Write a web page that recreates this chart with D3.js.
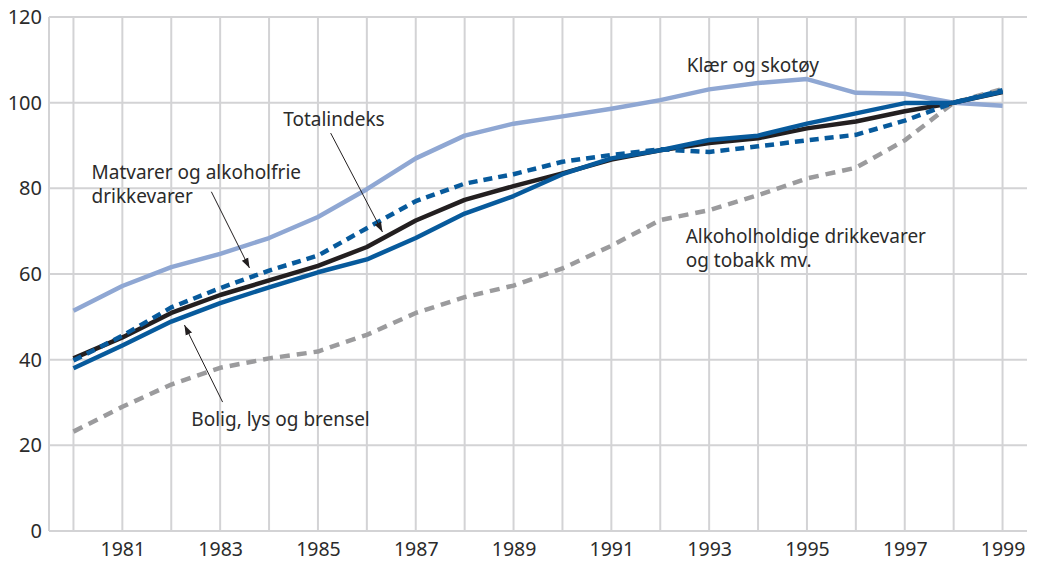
<!DOCTYPE html>
<html>
<head>
<meta charset="utf-8">
<script src="https://cdn.jsdelivr.net/npm/d3@7"></script>
<style>
  html, body { margin: 0; padding: 0; background: #ffffff; }
  svg { display: block; }
  text { font-family: "Noto Sans", "Open Sans", sans-serif; fill: #2b2b2b; }
</style>
</head>
<body>
<svg id="chart" width="1037" height="561"></svg>
<script>
// Prisindekser etter konsumgruppe, 1998 = 100
const years = d3.range(1980, 2000);
const yTicks = [0, 20, 40, 60, 80, 100, 120];
const xTickYears = [1981, 1983, 1985, 1987, 1989, 1991, 1993, 1995, 1997, 1999];

const klaer  = [51.4, 57.2, 61.6, 64.7, 68.4, 73.3, 79.8, 87.0, 92.3, 95.1, 96.8, 98.6, 100.6, 103.1, 104.6, 105.5, 102.3, 102.1, 100.0, 99.3];
const bolig  = [38.0, 43.3, 48.9, 53.2, 56.9, 60.4, 63.4, 68.4, 74.1, 78.2, 83.3, 87.0, 88.9, 91.3, 92.3, 95.1, 97.5, 99.9, 100.0, 102.6];
const total  = [40.3, 45.2, 50.9, 55.1, 58.5, 61.9, 66.3, 72.5, 77.3, 80.5, 83.5, 86.7, 88.9, 90.6, 91.7, 94.0, 95.6, 98.0, 100.0, 102.5];
const matvar = [39.8, 45.6, 52.2, 56.7, 60.8, 64.3, 70.7, 77.0, 81.1, 83.3, 86.2, 87.8, 89.1, 88.5, 89.8, 91.2, 92.5, 95.8, 100.0, 102.9];
const alkohol= [23.2, 29.0, 34.2, 38.1, 40.3, 41.9, 45.8, 50.9, 54.6, 57.3, 61.3, 66.6, 72.6, 74.9, 78.4, 82.3, 84.8, 91.2, 100.0, 103.2];

// Series, in drawing order (bottom first)
const series = [
  { name: "Alkoholholdige drikkevarer og tobakk mv.", values: alkohol, color: "#9b9b9d", dash: "10,7" },
  { name: "Klær og skotøy", values: klaer, color: "#8fa7d3", dash: null },
  { name: "Totalindeks", values: total, color: "#231f20", dash: null },
  { name: "Bolig, lys og brensel", values: bolig, color: "#075a9c", dash: null },
  { name: "Matvarer og alkoholfrie drikkevarer", values: matvar, color: "#075a9c", dash: "9,6" }
];

// Text labels (year, value of first baseline) and arrows (from -> to, in data units)
const labels = [
  { lines: ["Klær og skotøy"], x: 1992.54, y: 107.2 },
  { lines: ["Totalindeks"], x: 1984.29, y: 94.6 },
  { lines: ["Matvarer og alkoholfrie", "drikkevarer"], x: 1980.37, y: 82.2 },
  { lines: ["Bolig, lys og brensel"], x: 1982.41, y: 24.5 },
  { lines: ["Alkoholholdige drikkevarer", "og tobakk mv."], x: 1992.52, y: 67.2 }
];
const arrows = [
  { x1: 1985.26, y1: 92.9, x2: 1986.32, y2: 69.8 },
  { x1: 1982.82, y1: 79.2, x2: 1983.60, y2: 61.4 },
  { x1: 1983.05, y1: 30.1, x2: 1982.27, y2: 48.1 }
];

const svg = d3.select("#chart");
const x = d3.scaleLinear().domain([1979.5, 1999.5]).range([49, 1027]);
const y = d3.scaleLinear().domain([0, 120]).range([531, 17]);

// Grid: horizontal at each y tick, vertical at the left edge and at each year
const grid = svg.append("g").attr("stroke", "#d3d3d5").attr("stroke-width", 2);
grid.selectAll("line.h").data(yTicks).join("line").attr("class", "h")
  .attr("x1", x.range()[0]).attr("x2", x.range()[1])
  .attr("y1", d => y(d)).attr("y2", d => y(d));
grid.selectAll("line.v").data([x.domain()[0]].concat(years)).join("line").attr("class", "v")
  .attr("x1", d => x(d)).attr("x2", d => x(d))
  .attr("y1", y(0)).attr("y2", y(120));

// Axes
const yAxis = svg.append("g").attr("transform", `translate(${x.range()[0]},0)`)
  .call(d3.axisLeft(y).tickValues(yTicks).tickSize(0).tickPadding(7));
yAxis.select(".domain").remove();
yAxis.selectAll("text").attr("font-size", 20).attr("fill", "#2b2b2b")
  .style("font-family", '"Noto Sans", sans-serif');

const xAxis = svg.append("g").attr("transform", `translate(0,${y(0)})`)
  .call(d3.axisBottom(x).tickValues(xTickYears).tickFormat(d3.format("d")).tickSize(0).tickPadding(11));
xAxis.select(".domain").remove();
xAxis.selectAll("text").attr("font-size", 19.5).attr("fill", "#2b2b2b")
  .style("font-family", '"Noto Sans", sans-serif');

// Lines
const line = d3.line().x((d, i) => x(years[i])).y(d => y(d));
svg.append("g").selectAll("path").data(series).join("path")
  .attr("d", d => line(d.values))
  .attr("fill", "none")
  .attr("stroke", d => d.color)
  .attr("stroke-width", 4.5)
  .attr("stroke-linejoin", "round")
  .attr("stroke-dasharray", d => d.dash);

// Arrowhead
svg.append("defs").append("marker")
  .attr("id", "head").attr("viewBox", "0 0 10 10")
  .attr("refX", 10).attr("refY", 5)
  .attr("markerWidth", 10).attr("markerHeight", 10)
  .attr("markerUnits", "userSpaceOnUse")
  .attr("orient", "auto")
  .append("path").attr("d", "M0,1.5 L10,5 L0,8.5 Z").attr("fill", "#231f20");

svg.append("g").selectAll("line").data(arrows).join("line")
  .attr("x1", d => x(d.x1)).attr("y1", d => y(d.y1))
  .attr("x2", d => x(d.x2)).attr("y2", d => y(d.y2))
  .attr("stroke", "#231f20").attr("stroke-width", 1)
  .attr("marker-end", "url(#head)");

// Labels
const lab = svg.append("g").selectAll("text").data(labels).join("text")
  .attr("x", d => x(d.x)).attr("y", d => y(d.y))
  .attr("font-size", 19);
lab.selectAll("tspan").data(d => d.lines.map((t, i) => ({ t, i, x: d.x }))).join("tspan")
  .attr("x", d => x(d.x)).attr("dy", d => d.i === 0 ? 0 : 24)
  .text(d => d.t);
</script>
</body>
</html>
